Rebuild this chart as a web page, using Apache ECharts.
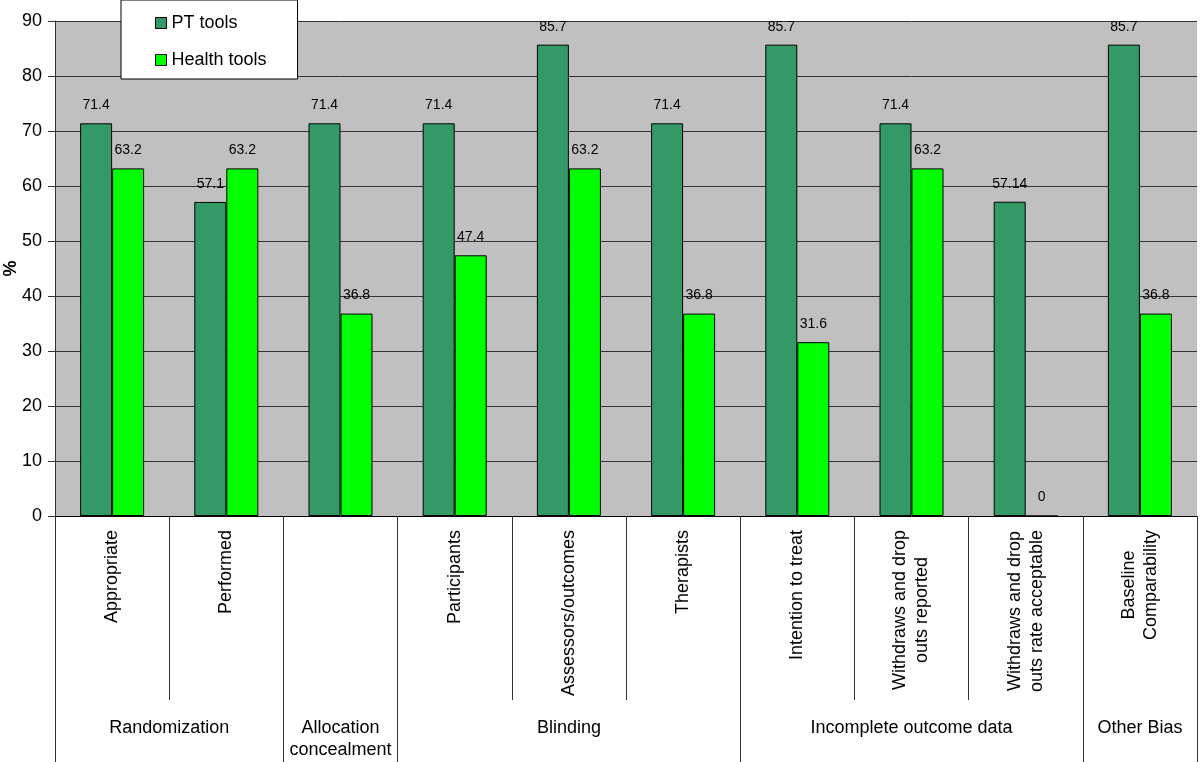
<!DOCTYPE html>
<html>
<head>
<meta charset="utf-8">
<script src="https://cdn.jsdelivr.net/npm/echarts@6/dist/echarts.min.js"></script>
<style>
  html, body { margin: 0; padding: 0; background: #fff; }
  #chart { width: 1200px; height: 762px; }
</style>
</head>
<body>
<div id="chart"></div>
<script>
// sub categories (one per bar pair)
const categories = [
  'Appropriate', 'Performed', '', 'Participants', 'Assessors/outcomes',
  'Therapists', 'Intention to treat', 'Withdraws and drop\nouts reported',
  'Withdraws and drop\nouts rate acceptable', 'Baseline\nComparability'
]
const ptTools = [71.4, 57.1, 71.4, 71.4, 85.7, 71.4, 85.7, 71.4, 57.14, 85.7]
const healthTools = [63.2, 63.2, 36.8, 47.4, 63.2, 36.8, 31.6, 63.2, 0, 36.8]

// group row: half-category slots 0..20 (boundaryGap false)
const groupSlots = ['', '', 'Randomization', '', '', 'Allocation\nconcealment', '', '', '', 'Blinding', '', '', '', '', '', 'Incomplete outcome data', '', '', '', 'Other Bias', '']
const groupEdges = [0, 4, 6, 12, 18, 20]

const yTicks = [0, 10, 20, 30, 40, 50, 60, 70, 80, 90]

const font = 'Liberation Sans, Arial, Helvetica, sans-serif'

const chart = echarts.init(document.getElementById('chart'))
chart.setOption({
  animation: false,
  textStyle: { fontFamily: font },
  grid: {
    left: 55,
    right: 3,
    top: 21,
    bottom: 246,
    containLabel: false,
    outerBoundsMode: 'none',
    show: true,
    backgroundColor: '#c0c0c0',
    borderWidth: 0
  },
  legend: {
    orient: 'vertical',
    left: 121,
    top: 0,
    backgroundColor: '#fff',
    borderColor: '#000',
    borderWidth: 1,
    padding: [14, 31, 10, 34],
    itemGap: 19,
    itemWidth: 11,
    itemHeight: 11,
    icon: 'rect',
    itemStyle: { borderColor: '#000', borderWidth: 1 },
    textStyle: { fontSize: 18, color: '#000', fontFamily: font },
    data: ['PT tools', 'Health tools']
  },
  xAxis: [
    {
      type: 'category',
      data: categories,
      position: 'bottom',
      axisLine: { lineStyle: { color: '#000', width: 1 } },
      axisTick: { show: true, length: 184, interval: 0, lineStyle: { color: '#333', width: 1 } },
      axisLabel: {
        rotate: 90,
        interval: 0,
        margin: 14,
        color: '#000',
        fontFamily: font,
        formatter: (v) => v.split('\n').map((s) => '{c|' + s + '}').join('\n'),
        rich: {
          c: { align: 'center', fontSize: 18, lineHeight: 22, color: '#000', fontFamily: font }
        }
      },
      splitLine: { show: false }
    },
    {
      type: 'category',
      data: groupSlots,
      position: 'bottom',
      boundaryGap: false,
      axisLine: { show: false },
      axisTick: {
        show: true,
        length: 246,
        interval: (i) => groupEdges.includes(i),
        lineStyle: { color: '#333' }
      },
      axisLabel: {
        interval: 0,
        margin: 201,
        verticalAlign: 'top',
        fontSize: 18,
        lineHeight: 22,
        color: '#000',
        fontFamily: font
      },
      splitLine: { show: false }
    }
  ],
  yAxis: {
    type: 'value',
    min: yTicks[0],
    max: yTicks[yTicks.length - 1],
    interval: 10,
    name: '%',
    nameLocation: 'middle',
    nameRotate: 90,
    nameGap: 35,
    nameMoveOverlap: false,
    nameTextStyle: { fontSize: 18, fontWeight: 'bold', color: '#000', fontFamily: font },
    axisLine: { show: true, lineStyle: { color: '#333' } },
    axisTick: { show: true, length: 7, lineStyle: { color: '#333' } },
    axisLabel: { fontSize: 18, color: '#000', margin: 13, fontFamily: font },
    splitLine: { lineStyle: { color: '#333', width: 1 } }
  },
  series: [
    {
      name: 'PT tools',
      type: 'bar',
      data: ptTools,
      barWidth: 32,
      barGap: '0%',
      itemStyle: { color: '#339966', borderColor: '#000', borderWidth: 1 },
      label: { show: true, position: 'top', distance: 11, fontSize: 14, color: '#000', fontFamily: font }
    },
    {
      name: 'Health tools',
      type: 'bar',
      data: healthTools,
      barWidth: 32,
      barGap: '0%',
      itemStyle: { color: '#00ff00', borderColor: '#000', borderWidth: 1 },
      label: { show: true, position: 'top', distance: 11, fontSize: 14, color: '#000', fontFamily: font }
    }
  ]
})
</script>
</body>
</html>
